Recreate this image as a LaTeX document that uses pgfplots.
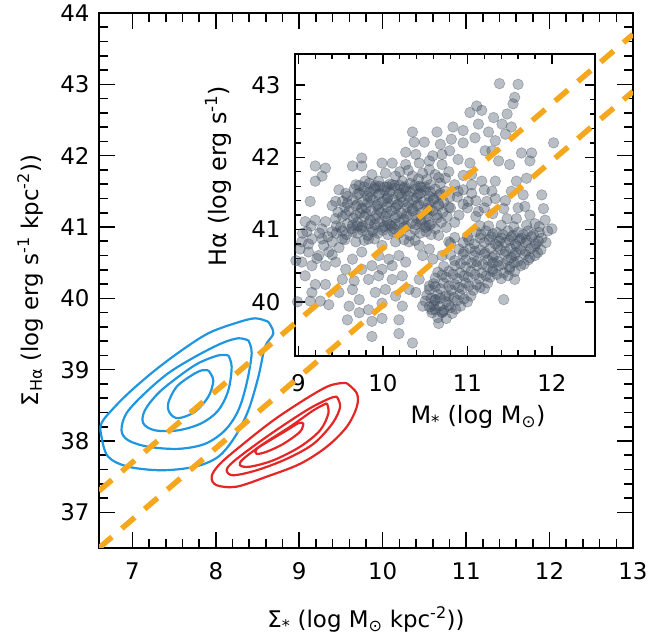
\documentclass[border=0pt]{standalone}
\usepackage{fontspec}
\setmainfont{DejaVu Sans}
\usepackage{pgfplots}
\pgfplotsset{compat=1.18}

\definecolor{cblue}{RGB}{30,150,225}
\definecolor{cred}{RGB}{228,38,38}
\definecolor{corange}{RGB}{245,168,30}
\definecolor{cgray}{RGB}{66,80,98}

\begin{document}
\begin{tikzpicture}
\pgfplotsset{
 mystyle/.style={
  scale only axis,
  axis line style={line width=1.8bp},
  every tick/.style={black, line width=1.6bp},
  tick align=inside,
  /pgf/number format/assume math mode=true,
 }
}
% ---------------- main axis ----------------
\begin{axis}[mystyle, at={(0,0)}, anchor=south west, width=534bp, height=535bp,
 xmin=6.6, xmax=13, ymin=36.5, ymax=44,
 xtick={7,...,13}, ytick={37,...,44}, minor x tick num=4, minor y tick num=4,
 major tick length=16bp, minor tick length=9bp,
 tick label style={font=\fontsize{23}{23}\selectfont},
 xticklabel style={yshift=-11bp}, yticklabel style={xshift=-6bp},
 label style={font=\fontsize{23}{23}\selectfont},
 xlabel={Σ\textsubscript{*} (log M\textsubscript{⊙} kpc\textsuperscript{-2}))},
 ylabel={Σ\textsubscript{Hα} (log erg s\textsuperscript{-1} kpc\textsuperscript{-2}))},
 xlabel style={at={(axis description cs:0.5,-0.134)}, anchor=center},
 ylabel style={at={(axis description cs:-0.129,0.5)}, anchor=center},
]
% blue contours
\addplot[cblue, line width=2.2bp, smooth, tension=0.55] coordinates {(8.63,39.67) (8.69,39.51) (8.59,39.32) (8.51,38.90) (8.39,38.43) (8.23,38.06) (8.03,37.78) (7.75,37.64) (7.35,37.59) (6.95,37.64) (6.71,37.78) (6.63,38.06) (6.63,38.25) (6.79,38.48) (6.99,38.71) (7.27,38.99) (7.59,39.27) (7.91,39.51) (8.23,39.65) (8.47,39.72) (8.63,39.67)};
\addplot[cblue, line width=2.2bp, smooth, tension=0.55] coordinates {(8.39,39.41) (8.43,39.23) (8.37,38.81) (8.27,38.43) (8.11,38.15) (7.87,37.96) (7.55,37.89) (7.19,37.92) (6.95,38.01) (6.87,38.15) (6.93,38.39) (7.15,38.67) (7.43,38.95) (7.75,39.18) (8.07,39.37) (8.27,39.44) (8.39,39.41)};
\addplot[cblue, line width=2.2bp, smooth, tension=0.55] coordinates {(8.15,39.20) (8.19,39.04) (8.15,38.71) (8.03,38.43) (7.83,38.25) (7.55,38.15) (7.27,38.15) (7.13,38.25) (7.15,38.43) (7.31,38.67) (7.55,38.90) (7.79,39.09) (8.03,39.20) (8.15,39.20)};
\addplot[cblue, line width=2.2bp, smooth, tension=0.55] coordinates {(7.91,38.99) (7.97,38.85) (7.91,38.62) (7.75,38.41) (7.55,38.32) (7.45,38.39) (7.43,38.53) (7.53,38.76) (7.71,38.92) (7.83,38.99) (7.91,38.99)};
% red contours
\addplot[cred, line width=2.2bp, smooth, tension=0.55] coordinates {(9.57,38.81) (9.69,38.67) (9.69,38.48) (9.57,38.20) (9.33,37.92) (9.01,37.68) (8.61,37.50) (8.25,37.36) (8.01,37.38) (7.95,37.50) (8.05,37.68) (8.33,37.96) (8.69,38.29) (9.05,38.57) (9.33,38.76) (9.49,38.81) (9.57,38.81)};
\addplot[cred, line width=2.2bp, smooth, tension=0.55] coordinates {(9.45,38.62) (9.49,38.48) (9.40,38.25) (9.17,37.96) (8.85,37.75) (8.49,37.59) (8.21,37.52) (8.13,37.59) (8.21,37.71) (8.49,37.96) (8.81,38.22) (9.13,38.46) (9.37,38.60) (9.45,38.62)};
\addplot[cred, line width=2.2bp, smooth, tension=0.55] coordinates {(9.33,38.53) (9.35,38.39) (9.25,38.15) (9.01,37.92) (8.69,37.73) (8.41,37.64) (8.29,37.66) (8.33,37.75) (8.57,37.96) (8.89,38.20) (9.17,38.43) (9.33,38.53)};
\addplot[cred, line width=2.2bp, smooth, tension=0.55] coordinates {(9.05,38.25) (9.01,38.13) (8.81,37.96) (8.61,37.85) (8.49,37.82) (8.49,37.89) (8.65,38.01) (8.85,38.15) (8.99,38.25) (9.05,38.25)};
\end{axis}
% ---------------- inset ----------------
\begin{axis}[mystyle, at={(196bp,192bp)}, anchor=south west, width=300bp, height=302bp,
 axis background/.style={fill=white},
 xmin=8.96, xmax=12.51, ymin=39.25, ymax=43.43,
 xtick={9,10,11,12}, ytick={40,41,42,43}, minor x tick num=4, minor y tick num=4,
 major tick length=10bp, minor tick length=5.5bp,
 every tick/.style={black, line width=1.4bp},
 tick label style={font=\fontsize{23}{23}\selectfont},
 xticklabel style={yshift=-15bp}, yticklabel style={xshift=-11bp},
 label style={font=\fontsize{24}{24}\selectfont},
 xlabel={M\textsubscript{*} (log M\textsubscript{⊙})},
 ylabel={Hα (log erg s\textsuperscript{-1})},
 xlabel style={at={(axis description cs:0.61,-0.202)}, anchor=center},
 ylabel style={at={(axis description cs:-0.257,0.596)}, anchor=center},
]
\addplot[only marks, mark=*, mark size=5.3bp, mark options={fill=cgray, draw=cgray, fill opacity=0.36, draw opacity=0.42, line width=0.6bp}] coordinates {
(11.38,43.02) (11.60,43.01) (11.56,42.83) (11.54,42.74) (11.11,42.71) (11.03,42.62) (11.17,42.65) (11.47,42.60) (11.31,42.55) (11.41,42.46)
(10.83,42.42) (10.95,42.37) (11.13,42.46) (11.25,42.35) (11.52,42.42) (10.81,42.25) (10.95,42.20) (11.09,42.27) (11.33,42.23) (11.45,42.32)
(12.02,42.20) (11.64,42.06) (11.76,42.06) (11.74,41.95) (11.50,41.90) (11.37,41.95) (11.21,42.09) (11.29,42.09) (10.89,41.97) (11.03,41.92)
(10.79,42.09) (11.58,41.67) (11.70,41.71) (11.88,41.48) (11.66,41.48) (11.52,41.53) (11.33,41.43) (11.43,41.29) (11.68,41.32) (11.74,41.20)
(11.90,41.29) (11.92,41.13) (12.00,41.01) (11.80,41.08) (11.58,41.15) (11.47,41.15) (11.29,41.53) (11.17,41.67) (11.33,41.67) (11.05,41.76)
(11.01,41.39) (10.89,41.53) (11.13,41.25) (11.23,41.39) (11.56,40.31) (11.43,40.03)
(10.35,42.35) (10.64,42.35) (10.37,42.21) (10.49,42.21) (10.68,42.18) (10.27,42.07) (10.39,42.04) (10.59,42.02) (10.70,42.04)
(9.20,41.88) (9.32,41.85) (9.64,41.88) (9.75,41.99) (9.75,41.88) (9.99,41.92) (10.11,41.92) (10.27,41.90) (10.43,41.92) (10.55,41.95) (10.70,41.90)
(9.20,41.67) (9.28,41.74) (9.14,41.39) (9.87,41.76) (10.03,41.78) (10.15,41.74) (9.48,41.55) (9.44,41.39) (9.56,41.50) (9.68,41.62)
(9.79,41.67) (9.95,41.67) (10.11,41.62) (10.23,41.67) (10.35,41.74) (10.47,41.78) (10.62,41.76) (10.74,41.71)
(10.30,41.82) (10.42,41.70) (10.55,41.83) (10.66,41.72) (10.52,41.69) (10.20,41.80) (10.78,41.80)
(9.08,41.11) (9.20,41.13) (9.32,41.11) (9.44,41.15) (9.04,40.83) (9.16,40.87) (9.28,40.87) (9.40,40.83) (9.52,40.87) (9.12,40.69)
(9.24,40.64) (9.36,40.69) (9.04,40.55) (9.16,40.50) (9.32,40.50) (9.44,40.55) (9.02,40.73) (9.10,40.97) (9.28,41.01) (9.40,40.97)
(8.97,40.57) (9.05,40.95) (9.15,41.05) (9.25,40.95) (9.35,40.90) (9.45,41.05) (9.12,40.80) (9.30,40.78) (9.22,40.60) (9.40,40.65) (9.48,40.75)
(9.08,40.36) (9.20,40.24) (9.32,40.24) (9.16,40.13) (9.14,40.01) (9.26,40.01) (9.36,39.96) (9.48,40.13) (9.52,40.31) (9.66,40.29)
(9.64,40.17) (9.72,40.03) (9.60,39.94) (9.58,39.75) (9.72,39.85) (9.83,39.89) (9.87,39.73) (9.99,39.77) (9.87,39.52) (10.19,39.56)
(10.19,39.75) (10.35,39.43) (9.99,39.98) (9.91,40.13) (10.03,40.17) (10.15,40.08) (10.23,39.94) (10.31,40.17) (10.11,40.31) (10.23,40.36)
(9.95,40.36) (9.83,40.31) (9.75,40.45) (9.87,40.50) (9.99,40.45) (10.11,40.50) (10.19,40.64) (10.27,40.55) (10.43,40.31) (10.39,40.13)
(10.55,40.22) (10.62,40.03) (10.74,40.08) (10.70,39.85) (10.58,39.89) (10.47,39.94) (10.66,39.70) (8.99,40.00)
(10.31,40.83) (10.43,40.78) (10.55,40.73) (10.47,40.64) (10.59,40.59) (10.70,40.64) (10.78,40.83) (10.66,40.92) (10.51,40.97)
(10.07,40.59) (9.95,40.64) (9.75,40.69) (9.64,40.59) (9.56,40.45) (9.68,40.83) (9.83,40.87) (9.99,40.78) (10.15,40.83)
(9.72,41.61) (9.84,41.64) (9.96,41.60) (10.08,41.63) (10.20,41.61) (10.32,41.64) (10.44,41.60) (10.56,41.62) (10.68,41.64)
(9.66,41.56) (9.78,41.53) (9.90,41.56) (10.02,41.54) (10.14,41.57) (10.27,41.53) (10.38,41.56) (10.50,41.54) (10.62,41.56) (10.74,41.53)
(9.58,41.46) (9.70,41.49) (9.82,41.46) (9.95,41.48) (10.06,41.45) (10.18,41.48) (10.30,41.46) (10.42,41.49) (10.55,41.46) (10.67,41.48) (10.79,41.45)
(9.52,41.39) (9.64,41.41) (9.76,41.38) (9.88,41.41) (10.00,41.39) (10.12,41.42) (10.24,41.38) (10.36,41.41) (10.48,41.39) (10.60,41.41) (10.72,41.38)
(9.40,41.33) (9.55,41.31) (9.68,41.33) (9.80,41.30) (9.93,41.33) (10.05,41.31) (10.17,41.34) (10.29,41.31) (10.41,41.33) (10.53,41.30) (10.66,41.33) (10.78,41.31)
(9.47,41.24) (9.60,41.26) (9.73,41.23) (9.86,41.26) (9.98,41.24) (10.10,41.26) (10.22,41.23) (10.35,41.26) (10.47,41.24) (10.59,41.26) (10.71,41.24)
(9.52,41.18) (9.65,41.16) (9.78,41.18) (9.91,41.15) (10.03,41.18) (10.15,41.16) (10.28,41.18) (10.40,41.15) (10.52,41.18) (10.64,41.16) (10.76,41.18)
(9.58,41.08) (9.70,41.10) (9.83,41.08) (9.96,41.10) (10.08,41.07) (10.20,41.10) (10.33,41.08) (10.45,41.10) (10.57,41.08) (10.69,41.10)
(9.50,41.03) (9.63,41.01) (9.75,41.03) (9.88,41.00) (10.00,41.03) (10.13,41.01) (10.25,41.03) (10.38,41.00) (10.50,41.03) (10.62,41.01) (10.75,41.03)
(9.45,40.95) (9.57,40.93) (9.70,40.95) (9.82,40.92) (9.94,40.95) (10.06,40.93) (10.19,40.95) (10.32,40.92) (10.44,40.95) (10.57,40.93)
(9.55,40.86) (9.78,40.85) (9.90,40.87) (10.25,40.86) (10.38,40.85)
(9.90,41.58) (10.05,41.59) (10.25,41.57) (10.45,41.58) (9.85,41.44) (10.05,41.43) (10.22,41.45) (10.40,41.44) (10.60,41.43)
(9.75,41.29) (9.95,41.28) (10.15,41.30) (10.35,41.29) (10.55,41.28) (9.85,41.13) (10.05,41.12) (10.25,41.14) (10.45,41.13)
(9.70,41.05) (10.10,41.05) (10.55,41.06)
(9.78,41.59) (9.91,41.61) (10.02,41.59) (10.14,41.61) (10.26,41.59) (10.38,41.61) (10.50,41.59)
(9.72,41.50) (9.84,41.52) (9.96,41.50) (10.08,41.52) (10.20,41.50) (10.32,41.52) (10.44,41.50) (10.56,41.52) (10.68,41.50)
(9.58,41.36) (9.70,41.35) (9.82,41.37) (9.94,41.35) (10.06,41.37) (10.18,41.35) (10.30,41.37) (10.42,41.35) (10.54,41.37) (10.66,41.35)
(9.56,41.21) (9.68,41.20) (9.80,41.22) (9.92,41.20) (10.04,41.22) (10.16,41.20) (10.28,41.22) (10.40,41.20) (10.52,41.22) (10.64,41.20)
(9.64,41.06) (9.76,41.05) (9.90,41.07) (10.02,41.05) (10.14,41.07) (10.27,41.05) (10.39,41.07) (10.51,41.05)
(9.52,40.98) (9.64,40.97) (9.76,40.99) (9.88,40.97) (10.00,40.99) (10.12,40.97)
(11.25,41.05) (11.40,41.06) (11.55,41.04) (11.70,41.06) (11.85,41.04)
(11.10,40.97) (11.22,40.98) (11.35,40.96) (11.48,40.98) (11.60,40.96) (11.72,40.98) (11.85,40.96) (11.95,40.98)
(10.85,40.89) (11.00,40.90) (11.15,40.88) (11.28,40.90) (11.40,40.88) (11.52,40.90) (11.64,40.88) (11.76,40.90) (11.88,40.88)
(10.80,40.81) (10.95,40.82) (11.08,40.80) (11.20,40.82) (11.33,40.80) (11.45,40.82) (11.57,40.80) (11.69,40.82) (11.81,40.80) (11.93,40.82)
(10.90,40.73) (11.03,40.74) (11.15,40.72) (11.27,40.74) (11.39,40.72) (11.51,40.74) (11.63,40.72) (11.75,40.74) (11.87,40.72)
(10.80,40.65) (10.95,40.66) (11.08,40.64) (11.20,40.66) (11.32,40.64) (11.44,40.66) (11.56,40.64) (11.68,40.66) (11.80,40.64)
(10.85,40.57) (10.98,40.58) (11.11,40.56) (11.24,40.58) (11.36,40.56) (11.48,40.58) (11.60,40.56) (11.72,40.58)
(10.72,40.49) (10.85,40.50) (10.98,40.48) (11.11,40.50) (11.24,40.48) (11.37,40.50) (11.50,40.48) (11.63,40.50)
(10.65,40.41) (10.78,40.42) (10.91,40.40) (11.04,40.42) (11.17,40.40) (11.30,40.42) (11.43,40.40) (11.56,40.42)
(10.62,40.33) (10.75,40.34) (10.88,40.32) (11.01,40.34) (11.14,40.32) (11.27,40.34) (11.40,40.32)
(10.60,40.25) (10.72,40.26) (10.85,40.24) (10.98,40.26) (11.11,40.24) (11.24,40.26)
(10.55,40.17) (10.68,40.18) (10.81,40.16) (10.94,40.18) (11.07,40.16) (11.20,40.18)
(10.52,40.09) (10.65,40.10) (10.78,40.08) (10.91,40.10) (11.04,40.08)
(10.50,40.01) (10.62,40.02) (10.75,40.00) (10.88,40.02) (11.00,40.00)
(10.55,39.93) (10.67,39.94) (10.80,39.92) (10.92,39.94) (10.58,39.85) (10.70,39.86) (10.82,39.84) (10.65,39.78) (10.75,39.77)
(11.42,40.93) (11.66,40.93) (11.36,40.77) (11.58,40.77) (11.80,40.77) (11.30,40.61) (11.52,40.61) (11.74,40.61) (11.30,40.45) (11.50,40.45) (11.50,40.85) (11.70,40.85)
(10.60,39.95) (10.72,39.88) (10.68,40.05) (10.78,39.95)
(11.16,40.93) (11.30,40.94) (11.54,40.92) (11.78,40.93)
(11.02,40.85) (11.26,40.86) (11.38,40.84) (11.62,40.86) (11.84,40.84)
(10.96,40.69) (11.09,40.70) (11.21,40.68) (11.45,40.70) (11.57,40.68) (11.69,40.70) (11.83,40.68)
(10.92,40.53) (11.05,40.54) (11.18,40.52) (11.30,40.54) (11.42,40.52) (11.55,40.54) (11.67,40.52)
(10.70,40.37) (10.83,40.38) (10.96,40.36) (11.09,40.38) (11.22,40.36) (11.35,40.38) (11.48,40.36)
(10.62,40.21) (10.78,40.22) (10.90,40.20) (11.02,40.22) (11.15,40.20)
(10.57,40.05) (10.84,40.06) (10.96,40.04) (10.62,39.89) (10.86,39.90)
(10.85,41.10) (10.90,41.20) (10.80,41.30) (10.95,41.35) (10.88,41.45) (10.95,41.55) (11.05,41.50) (11.10,41.40) (11.20,41.30) (11.00,41.30)
(11.10,41.18) (11.15,41.05) (11.30,41.22) (11.05,41.62) (10.85,41.62) (10.95,41.75) (11.20,41.55) (11.45,41.40) (11.60,41.30)
};
\end{axis}
% ---------------- dashed relations on top ----------------
\begin{axis}[at={(0,0)}, anchor=south west, scale only axis, width=534bp, height=535bp,
 xmin=6.6, xmax=13, ymin=36.5, ymax=44, hide axis]
\addplot[corange, line width=5.5bp, dash pattern=on 17bp off 13bp] coordinates {(6.6,37.3) (13,43.7)};
\addplot[corange, line width=5.5bp, dash pattern=on 17bp off 13bp] coordinates {(6.6,36.5) (13,42.9)};
\end{axis}
\pgfresetboundingbox
\path[use as bounding box] (-99bp,-88bp) rectangle (569bp,548bp);
\end{tikzpicture}
\end{document}
